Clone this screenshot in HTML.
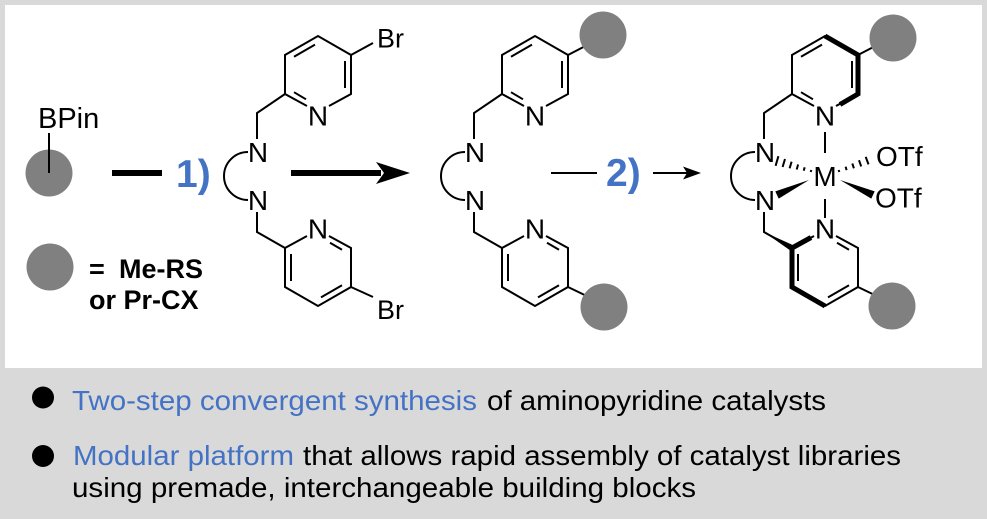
<!DOCTYPE html>
<html>
<head>
<meta charset="utf-8">
<style>
  html,body{margin:0;padding:0;background:#d9d9d9;}
  svg{display:block;}
  text{font-family:"Liberation Sans",Arial,sans-serif;}
</style>
</head>
<body>
<svg width="987" height="519" viewBox="0 0 987 519" xmlns="http://www.w3.org/2000/svg">
  <rect x="0" y="0" width="987" height="519" fill="#d9d9d9"/>
  <rect x="5" y="5" width="977" height="363" fill="#ffffff"/>

  <defs>
    <g id="core" stroke="#000" stroke-width="2" fill="none">
      <path d="M307,106 L285,94 L285,55 L318,36 L351,55 L351,94 L329,106"/>
      <line x1="315" y1="44.6" x2="294" y2="56.8"/>
      <line x1="345" y1="61" x2="345" y2="88"/>
      <line x1="294" y1="92.2" x2="306" y2="99.3"/>
      <path d="M307,236 L285,248 L285,287 L318,306 L351,287 L351,248 L329,236"/>
      <line x1="330" y1="242.8" x2="342" y2="249.8"/>
      <line x1="291" y1="254" x2="291" y2="281"/>
      <line x1="321" y1="297.4" x2="342" y2="285.2"/>
      <path d="M285,94 L257,113 L257,139"/>
      <path d="M257,212 L257,232 L285,248"/>
      <path d="M248,152 A24,24 0 0 0 248,200"/>
    </g>
    <g id="corelabels" font-size="28" text-anchor="middle" fill="#000">
      <text x="318" y="125.5">N</text>
      <text x="318" y="238.5">N</text>
      <text x="258" y="162">N</text>
      <text x="258" y="210">N</text>
    </g>
  </defs>

  <!-- Left reagent -->
  <text x="38" y="128" font-size="29" fill="#000">BPin</text>
  <circle cx="49" cy="173" r="23.5" fill="#808080"/>
  <line x1="49" y1="133" x2="49" y2="173" stroke="#000" stroke-width="2"/>
  <circle cx="50" cy="267" r="23.5" fill="#808080"/>
  <text x="89" y="278" font-size="27" font-weight="bold" fill="#000">=</text>
  <text x="119" y="278" font-size="27" font-weight="bold" fill="#000">Me-RS</text>
  <text x="89" y="309" font-size="27" font-weight="bold" fill="#000">or Pr-CX</text>

  <rect x="112" y="170" width="50" height="6" fill="#000"/>
  <text x="176" y="187" font-size="39" font-weight="bold" fill="#4472c4">1)</text>
  <rect x="291" y="170" width="90" height="6" fill="#000"/>
  <polygon points="410,173 376,162 384,173 376,184" fill="#000"/>

  <!-- Ligand 1 -->
  <use href="#core"/>
  <use href="#corelabels"/>
  <line x1="351" y1="55" x2="373" y2="43" stroke="#000" stroke-width="2"/>
  <line x1="351" y1="287" x2="373" y2="297" stroke="#000" stroke-width="2"/>
  <text x="377" y="47.5" font-size="27" fill="#000">Br</text>
  <text x="377" y="319" font-size="27" fill="#000">Br</text>

  <!-- Product ligand -->
  <g transform="translate(217,0)">
    <use href="#core"/>
    <use href="#corelabels"/>
    <line x1="351" y1="55" x2="378" y2="41" stroke="#000" stroke-width="2"/>
    <line x1="351" y1="287" x2="378" y2="300" stroke="#000" stroke-width="2"/>
    <circle cx="386" cy="35" r="23.5" fill="#808080"/>
    <circle cx="387" cy="307" r="23.5" fill="#808080"/>
  </g>

  <!-- step 2 -->
  <line x1="551" y1="173" x2="597" y2="173" stroke="#000" stroke-width="2"/>
  <text x="606" y="186" font-size="39" font-weight="bold" fill="#4472c4">2)</text>
  <line x1="653" y1="173" x2="690" y2="173" stroke="#000" stroke-width="2"/>
  <polygon points="701,173 683,166.5 687,173 683,179.5" fill="#000"/>

  <!-- Metal complex -->
  <g transform="translate(507,0)">
    <use href="#core"/>
    <use href="#corelabels"/>
    <polyline points="318,36 351,55 351,94 333,104.5" fill="none" stroke="#000" stroke-width="5" stroke-linejoin="miter"/>
    <polyline points="304,237.5 285,248 285,287 318,306" fill="none" stroke="#000" stroke-width="5" stroke-linejoin="miter"/>
    <polygon points="257,232 286.5,245.4 283.5,250.6" fill="#000"/>
    <line x1="351" y1="55" x2="378" y2="41" stroke="#000" stroke-width="2"/>
    <line x1="351" y1="287" x2="378" y2="300" stroke="#000" stroke-width="2"/>
    <circle cx="386" cy="38" r="23.5" fill="#808080"/>
    <circle cx="385" cy="306" r="23.5" fill="#808080"/>
  </g>
  <line x1="825" y1="132" x2="825" y2="153" stroke="#000" stroke-width="2"/>
  <line x1="825" y1="199" x2="825" y2="218" stroke="#000" stroke-width="2"/>
  <text x="825" y="186" font-size="28" text-anchor="middle" fill="#000">M</text>
  <g stroke="#000" stroke-width="2">
    <line x1="778.4" y1="156.2" x2="775.6" y2="165.8"/>
    <line x1="785.0" y1="159.0" x2="782.6" y2="167.0"/>
    <line x1="791.6" y1="161.7" x2="789.6" y2="168.3"/>
    <line x1="798.1" y1="164.5" x2="796.7" y2="169.5"/>
    <line x1="804.7" y1="167.3" x2="803.7" y2="170.7"/>
    <line x1="811.3" y1="170" x2="810.7" y2="172"/>

    <line x1="839.3" y1="172" x2="838.7" y2="170"/>
    <line x1="846.6" y1="170.1" x2="845.6" y2="166.7"/>
    <line x1="853.9" y1="168.3" x2="852.3" y2="163.5"/>
    <line x1="861.2" y1="166.4" x2="859.0" y2="160.2"/>
    <line x1="868.5" y1="164.4" x2="865.7" y2="156.8"/>
  </g>
  <polygon points="778.7,198.6 775.3,191.4 809,180" fill="#000"/>
  <polygon points="840,180 871.3,198.6 874.7,191.4" fill="#000"/>
  <text x="876" y="166" font-size="28" fill="#000">OTf</text>
  <text x="875" y="207.5" font-size="28" fill="#000">OTf</text>

  <!-- Bottom bullets -->
  <circle cx="43" cy="397.5" r="11" fill="#000"/>
  <circle cx="43" cy="456" r="11" fill="#000"/>
  <text x="72" y="410" font-size="28" fill="#4472c4" textLength="405" lengthAdjust="spacingAndGlyphs">Two-step convergent synthesis</text>
  <text x="487" y="410" font-size="28" fill="#000" textLength="339" lengthAdjust="spacingAndGlyphs">of aminopyridine catalysts</text>
  <text x="73" y="465" font-size="28" fill="#4472c4" textLength="221" lengthAdjust="spacingAndGlyphs">Modular platform</text>
  <text x="303" y="465" font-size="28" fill="#000" textLength="598" lengthAdjust="spacingAndGlyphs">that allows rapid assembly of catalyst libraries</text>
  <text x="72" y="497" font-size="28" fill="#000" textLength="624" lengthAdjust="spacingAndGlyphs">using premade, interchangeable building blocks</text>
</svg>
</body>
</html>
